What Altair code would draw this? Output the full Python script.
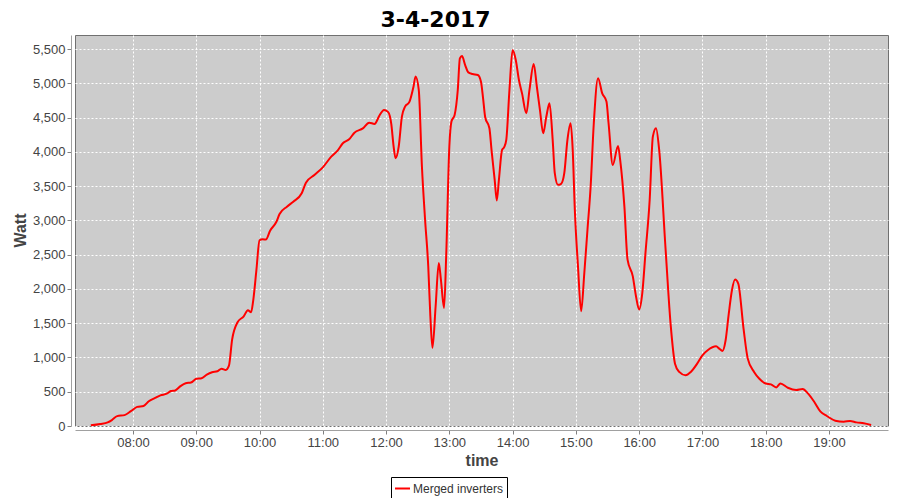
import altair as alt
import pandas as pd

times = ["07:20","07:29","07:36","07:40","07:45","07:52","07:58","08:04","08:10","08:15",
         "08:21","08:26","08:32","08:36","08:40","08:45","08:50","08:55","09:00","09:05",
         "09:10","09:15","09:20","09:24","09:28","09:31","09:34","09:39","09:45","09:49",
         "09:52","09:54","09:57","10:00","10:03","10:06","10:10","10:16","10:19","10:26",
         "10:32","10:40","10:44","10:52","11:00","11:08","11:14","11:19","11:25","11:30",
         "11:38","11:44","11:49","11:54","11:58","12:02","12:05","12:07","12:09","12:12",
         "12:15","12:18","12:22","12:26","12:28","12:31","12:34","12:37","12:40","12:42",
         "12:44","12:47","12:50","12:52","12:55","12:57","13:00","13:02","13:05","13:08",
         "13:10","13:12","13:15","13:18","13:22","13:27","13:30","13:32","13:34","13:38",
         "13:40","13:43","13:45","13:47","13:50","13:52","13:54","13:57","14:00","14:03",
         "14:06","14:09","14:13","14:16","14:20","14:23","14:26","14:29","14:32","14:35",
         "14:38","14:40","14:43","14:46","14:49","14:52","14:55","14:57","14:59","15:02",
         "15:05","15:08","15:11","15:14","15:17","15:21","15:25","15:29","15:31","15:35",
         "15:40","15:42","15:46","15:49","15:54","15:57","16:00","16:03","16:06","16:10",
         "16:13","16:16","16:19","16:25","16:30","16:34","16:38","16:44","16:49","16:55",
         "17:00","17:05","17:13","17:16","17:19","17:22","17:25","17:28","17:31","17:34",
         "17:39","17:43","17:49","17:54","18:00","18:05","18:10","18:14","18:21","18:29",
         "18:35","18:40","18:46","18:52","18:58","19:06","19:14","19:20","19:26","19:33",
         "19:40"]
watts = [10,29,53,87,144,159,216,279,293,361,
         409,447,471,510,519,582,625,635,688,697,
         750,784,798,837,818,880,1260,1510,1600,1690,
         1660,1830,2270,2710,2725,2720,2850,2980,3093,3200,
         3273,3395,3550,3662,3774,3930,4018,4125,4183,4280,
         4343,4426,4407,4538,4611,4580,4400,4100,3908,4078,
         4515,4660,4725,4951,5100,4903,3786,3010,2330,1602,
         1140,1747,2379,2136,1723,2475,4078,4442,4539,4903,
         5364,5398,5267,5160,5136,5121,5024,4782,4505,4345,
         4029,3592,3291,3592,4029,4068,4175,4903,5485,5340,
         5049,4850,4563,4903,5282,4950,4600,4272,4515,4709,
         4175,3689,3519,3534,3689,4175,4417,4029,3155,2330,
         1675,2233,2864,3495,4417,5073,4854,4733,4417,3810,
         4087,3883,3204,2427,2184,1893,1699,1942,2525,3301,
         4223,4345,4029,2597,1456,910,789,740,789,910,
         1032,1105,1163,1129,1095,1251,1640,1981,2136,2078,
         1421,983,789,690,621,607,563,621,558,524,
         539,476,354,209,146,78,63,73,53,39,
         15]
series_name = "Merged inverters"
day = "2017-04-03"
chart_title = "3-4-2017"
y_ticks = list(range(0, 5501, 500))
x_hours = list(range(8, 20))

df = pd.DataFrame({
    "time": [f"{day}T{t}" for t in times],
    "watt": watts,
    "series": [series_name] * len(times),
})

x_ticks = [alt.DateTime(year=2017, month=4, date=3, hours=h, minutes=0) for h in x_hours]

chart = alt.Chart(df).mark_line(strokeWidth=2, interpolate="monotone").encode(
    x=alt.X("time:T",
            scale=alt.Scale(domain=[alt.DateTime(year=2017, month=4, date=3, hours=7, minutes=5),
                                    alt.DateTime(year=2017, month=4, date=3, hours=19, minutes=56)]),
            axis=alt.Axis(title="time", format="%H:%M", values=x_ticks, offset=4,
                          tickSize=4, labelPadding=2, titlePadding=3,
                          labelFont="Liberation Sans", labelFontSize=13, labelColor="#444444",
                          titleFont="Liberation Sans", titleFontSize=16, titleFontWeight="bold",
                          titleColor="#444444",
                          domainColor="#A0A0A0", tickColor="#808080",
                          grid=True, gridColor="white", gridDash=[2, 2], gridWidth=1,
                          labelFlush=False, labelOverlap=False)),
    y=alt.Y("watt:Q",
            scale=alt.Scale(domain=[0, 5705], nice=False, zero=True),
            axis=alt.Axis(title="Watt", values=y_ticks, format=",d", offset=4,
                          tickSize=4, labelPadding=2,
                          labelFont="Liberation Sans", labelFontSize=13, labelColor="#444444",
                          titleFont="Liberation Sans", titleFontSize=16, titleFontWeight="bold",
                          titleColor="#444444", titleAngle=270, titleX=-51, titleY=195,
                          titleAlign="center", titleBaseline="middle",
                          domainColor="#A0A0A0", tickColor="#808080",
                          grid=True, gridColor="white", gridDash=[2, 2], gridWidth=1,
                          labelFlush=False, labelOverlap=False)),
    color=alt.Color("series:N",
                    scale=alt.Scale(domain=[series_name], range=["#FF0000"]),
                    legend=alt.Legend(title=None, orient="none", legendX=316, legendY=442,
                                      strokeColor="black", fillColor="white", padding=3,
                                      symbolType="stroke", symbolStrokeWidth=2, symbolSize=225,
                                      labelFont="Liberation Sans", labelFontSize=12,
                                      labelColor="#333333", labelOffset=2)),
).properties(
    width=813,
    height=391,
    background="white",
    autosize=alt.AutoSizeParams(type="none"),
    padding={"left": 67, "top": 27, "right": 4, "bottom": 72},
    title=alt.TitleParams(chart_title, font="DejaVu Sans", fontSize=22, fontWeight="bold",
                          color="black", anchor="middle", frame="group", dx=-46, offset=3),
).configure_view(
    fill="#CCCCCC", stroke="#707070", strokeWidth=1
)

chart.save("out.html", embed_options={"renderer": "svg", "actions": False})
